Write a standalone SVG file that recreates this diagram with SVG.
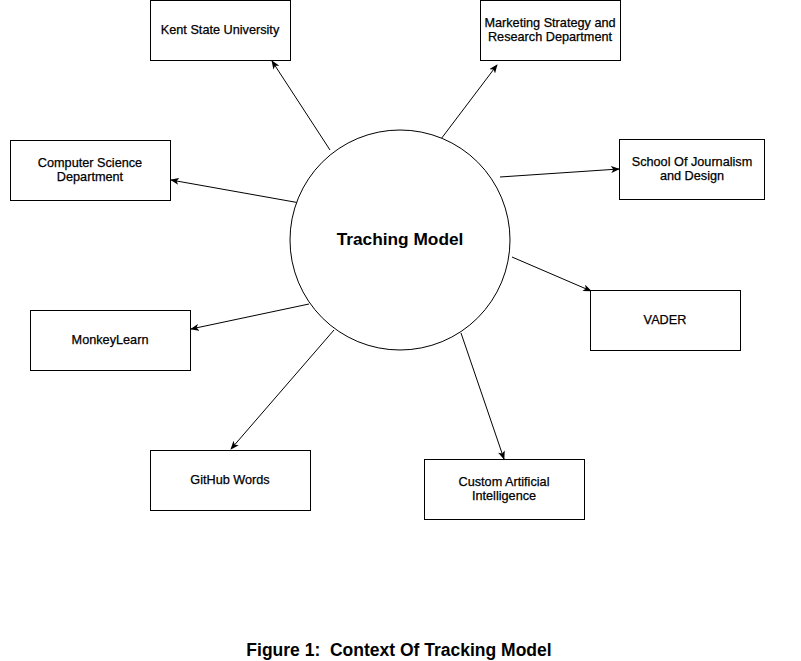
<svg xmlns="http://www.w3.org/2000/svg" width="801" height="661" viewBox="0 0 801 661">
<defs>
<marker id="arr" viewBox="0 0 10 8" refX="9" refY="4" markerWidth="9" markerHeight="7" markerUnits="userSpaceOnUse" orient="auto">
<path d="M0,0 L10,4 L0,8 L2.5,4 z" fill="#000"/>
</marker>
</defs>
<style>
.box{fill:#fff;stroke:#000;stroke-width:1}
.t{font-family:"Liberation Sans",Arial,sans-serif;font-size:12.7px;fill:#000;stroke:#000;stroke-width:0.25;text-anchor:middle}
.c{fill:none;stroke:#000;stroke-width:1;marker-end:url(#arr)}
</style>
<rect width="801" height="661" fill="#fff"/>
<g id="connectors">
<line class="c" x1="330" y1="150" x2="272" y2="61"/>
<line class="c" x1="441" y1="139" x2="497" y2="65"/>
<line class="c" x1="300" y1="203" x2="171" y2="180"/>
<line class="c" x1="500" y1="177" x2="619" y2="169"/>
<line class="c" x1="512" y1="257" x2="591" y2="291"/>
<line class="c" x1="309" y1="304" x2="191" y2="329"/>
<line class="c" x1="334" y1="330" x2="231" y2="449"/>
<line class="c" x1="461" y1="333" x2="504" y2="459"/>
</g>
<g id="center">
<circle cx="400" cy="240" r="110" fill="#fff" stroke="#000"/>
<text x="400" y="245" style="font-family:'Liberation Sans',Arial,sans-serif;font-size:17.3px;font-weight:bold;text-anchor:middle;fill:#000">Traching Model</text>
</g>
<g id="kent">
<rect class="box" x="150.5" y="0.5" width="140" height="60"/>
<text class="t" x="220" y="34">Kent State University</text>
</g>
<g id="marketing">
<rect class="box" x="480.5" y="0.5" width="140" height="60"/>
<text class="t" x="550" y="27">Marketing Strategy and</text>
<text class="t" x="550" y="41">Research Department</text>
</g>
<g id="cs">
<rect class="box" x="10.5" y="140.5" width="160" height="60"/>
<text class="t" x="90" y="167">Computer Science</text>
<text class="t" x="90" y="181">Department</text>
</g>
<g id="journalism">
<rect class="box" x="619.5" y="139.5" width="145" height="60"/>
<text class="t" x="692" y="166">School Of Journalism</text>
<text class="t" x="692" y="180">and Design</text>
</g>
<g id="vader">
<rect class="box" x="590.5" y="290.5" width="150" height="60"/>
<text class="t" x="665" y="324">VADER</text>
</g>
<g id="monkeylearn">
<rect class="box" x="30.5" y="310.5" width="160" height="60"/>
<text class="t" x="110" y="344">MonkeyLearn</text>
</g>
<g id="github">
<rect class="box" x="150.5" y="450.5" width="160" height="60"/>
<text class="t" x="230" y="484">GitHub Words</text>
</g>
<g id="customai">
<rect class="box" x="424.5" y="459.5" width="160" height="60"/>
<text class="t" x="504" y="486">Custom Artificial</text>
<text class="t" x="504" y="500">Intelligence</text>
</g>
<text x="399" y="656" xml:space="preserve" style="font-family:'Liberation Sans',Arial,sans-serif;font-size:17.5px;font-weight:bold;text-anchor:middle;fill:#000">Figure 1:  Context Of Tracking Model</text>
</svg>
